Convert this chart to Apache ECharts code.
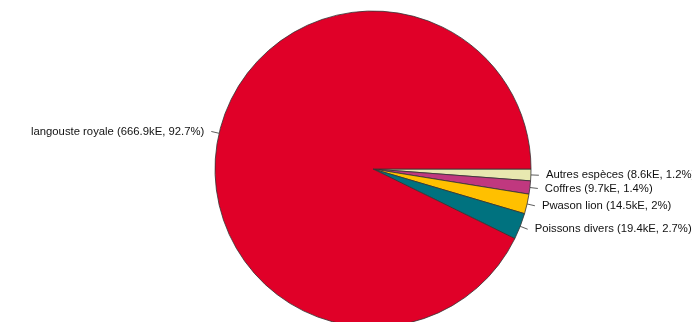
<!DOCTYPE html>
<html><head><meta charset="utf-8">
<script src="https://cdn.jsdelivr.net/npm/echarts@6/dist/echarts.min.js"></script>
<style>html,body{margin:0;padding:0;background:#fff;}#c{width:692px;height:322px;}</style>
</head><body><div id="c"></div>
<script>
const categories = ["Autres espèces", "Coffres", "Pwason lion", "Poissons divers", "langouste royale"];
const valuesKE = [8.6, 9.7, 14.5, 19.4, 666.9];
const percents = ["1.2%", "1.4%", "2%", "2.7%", "92.7%"];
const colors = ["#E8E8B0", "#C0387F", "#FFC000", "#00727F", "#E00028"];

const total = valuesKE.reduce((a, b) => a + b, 0);
let cum = 0;
const pads = valuesKE.map(v => {
  const mid = (cum + v / 2) / total * 2 * Math.PI;
  cum += v;
  const dy = 8 * Math.sin(mid);
  return dy > 0 ? [2 * dy, 0, 0, 0] : [0, 0, -2 * dy, 0];
});

const chart = echarts.init(document.getElementById('c'), null, {renderer: 'canvas'});
chart.setOption({
  animation: false,
  backgroundColor: '#ffffff',
  series: [{
    type: 'pie',
    center: [373, 169],
    radius: 158,
    startAngle: 0,
    clockwise: true,
    avoidLabelOverlap: false,
    data: categories.map((c, i) => ({
      name: c, value: valuesKE[i],
      itemStyle: {color: colors[i]},
      label: {formatter: c + ' (' + valuesKE[i] + 'kE, ' + percents[i] + ')', padding: pads[i]}
    })),
    itemStyle: {borderColor: '#333333', borderWidth: 0.8},
    label: {
      show: true, position: 'outside', alignTo: 'none',
      fontFamily: 'Liberation Sans, Arial, sans-serif', fontSize: 11.3, color: '#111111',
      distanceToLabelLine: 7
    },
    labelLine: {show: true, length: 8, length2: 0, smooth: false,
      lineStyle: {color: '#333333', width: 0.8}},
    emphasis: {disabled: true}
  }]
});
</script></body></html>
